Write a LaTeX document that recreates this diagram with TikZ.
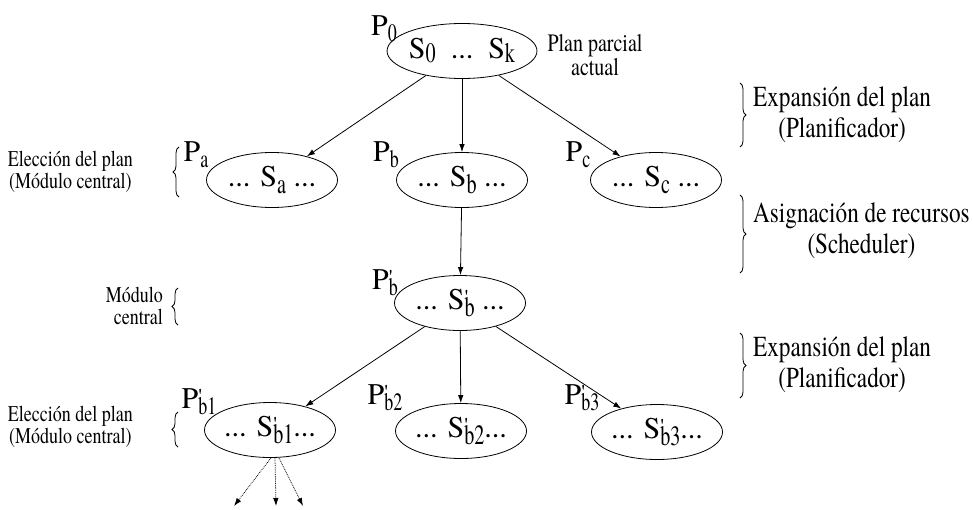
\documentclass[tikz,border=0pt]{standalone}
\usepackage{fontspec}
\setmainfont{texgyretermes-regular.otf}[BoldFont=texgyretermes-bold.otf,ItalicFont=texgyretermes-italic.otf]
\newfontfamily\nrw{texgyretermes-regular.otf}[FakeStretch=0.8]
\newfontfamily\subfnt{texgyretermes-regular.otf}[FakeStretch=0.72]
\usetikzlibrary{arrows.meta,decorations.pathreplacing,shapes.geometric}
\newcommand{\lsub}[1]{\raisebox{-7pt}{\subfnt\fontsize{28}{28}\selectfont #1}}
\newcommand{\tsub}[1]{\raisebox{-4pt}{\subfnt\fontsize{28}{28}\selectfont #1}}
\newcommand{\psub}[1]{\raisebox{-6pt}{\subfnt\fontsize{25}{25}\selectfont #1}}
\newcommand{\lpr}{\rlap{\raisebox{5pt}{\fontsize{21}{21}\selectfont\textquotesingle}}}
\begin{document}
\begin{tikzpicture}[x=1pt,y=-1pt,
  st/.style={ellipse,draw,line width=0.8pt,minimum width=131pt,minimum height=55pt,inner sep=0pt,font=\fontsize{30}{32}\selectfont},
  plab/.style={inner sep=0pt,font=\fontsize{30}{32}\selectfont},
  arr/.style={line width=0.8pt,-{Latex[length=8pt,width=5.5pt]}},
  darr/.style={line width=0.8pt,densely dotted,-{Latex[length=8pt,width=5.5pt]}},
  brc/.style={decorate,decoration={brace,amplitude=6pt},line width=0.8pt},
  rlab/.style={align=center,font=\nrw\fontsize{29}{31}\selectfont,inner sep=0pt},
  llab/.style={align=center,font=\nrw\fontsize{22.5}{22}\selectfont,inner sep=0pt}]
\useasboundingbox (0,0) rectangle (973,509);
% ellipses
\node[st] (p0) at (462,51) {S\tsub{0}~~...~~S\tsub{k}};
\node[st] (pa) at (272,180) {... S\lsub{a} ...};
\node[st] (pb) at (462,180) {... S\lsub{b} ...};
\node[st] (pc) at (656,180) {... S\lsub{c} ...};
\node[st] (pbp) at (460,303) {... S\lpr\lsub{b} ...};
\node[st] (b1) at (270,430) {... S\lpr\lsub{b1}...};
\node[st] (b2) at (461,431) {... S\lpr\lsub{b2}...};
\node[st] (b3) at (657,432) {... S\lpr\lsub{b3}...};
% P labels
\node[plab] (l0) at (384,29) {P\psub{0}};
\node[plab] (la) at (196,155) {P\psub{a}};
\node[plab] (lb) at (386,155) {P\psub{b}};
\node[plab] (lc) at (578,155) {P\psub{c}};
\node[plab] (lbp) at (385,283) {P\lpr\psub{b}};
\node[plab] (lb1) at (199,402) {P\lpr\psub{b1}};
\node[plab] (lb2) at (385,398) {P\lpr\psub{b2}};
\node[plab] (lb3) at (582,398) {P\lpr\psub{b3}};
% arrows
\draw[arr] (p0) -- (pa);
\draw[arr] (p0) -- (pb);
\draw[arr] (p0) -- (pc);
\draw[arr] (pb) -- (pbp);
\draw[arr] (pbp) -- (b1);
\draw[arr] (pbp) -- (b2);
\draw[arr] (pbp) -- (b3);
\coordinate (d1) at (234,506);
\coordinate (d2) at (276,506);
\coordinate (d3) at (303,506);
\draw[darr] ([xshift=1pt]b1.south) -- (d1);
\draw[darr] ([xshift=5pt]b1.south) -- (d2);
\draw[darr] ([xshift=9pt]b1.south) -- (d3);
% plan parcial
\node[align=center,inner sep=0pt,font=\nrw\fontsize{25}{22}\selectfont] (ppa) at (595,55) {Plan parcial\\actual};
% right braces
\draw[brc] (740,83) -- (740,147);
\node[rlab,anchor=west] (r1) at (753,115) {Expansión del plan\\(Planificador)};
\draw[brc] (740,195) -- (740,273);
\node[rlab,anchor=west] (r2) at (753,231) {Asignación de recursos\\(Scheduler)};
\draw[brc] (740,333) -- (740,398);
\node[rlab,anchor=west] (r3) at (753,365) {Expansión del plan\\(Planificador)};
% left braces
\draw[brc] (179,197) -- (179,147);
\node[llab,anchor=east] (e1) at (133,172) {Elección del plan\\(Módulo central)};
\draw[brc] (178,325) -- (178,288);
\node[llab,align=right,anchor=east] (e2) at (163,306) {Módulo\\central};
\draw[brc] (178,447) -- (178,412);
\node[llab,anchor=east] (e3) at (133,427) {Elección del plan\\(Módulo central)};
\end{tikzpicture}
\end{document}
